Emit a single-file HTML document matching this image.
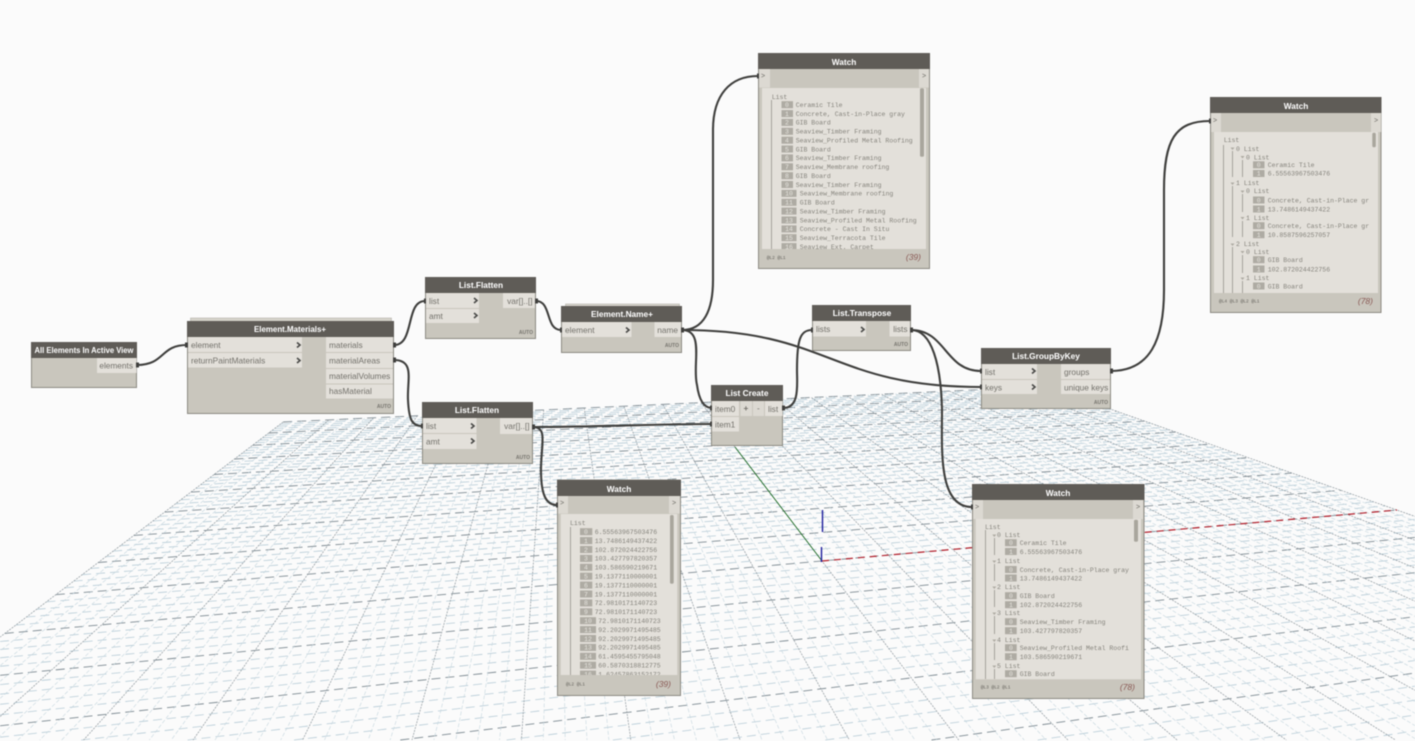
<!DOCTYPE html>
<html><head><meta charset="utf-8"><title>Dynamo graph</title>
<style>
html,body{margin:0;padding:0;background:#fbfbfb;width:1415px;height:741px;overflow:hidden}
svg{display:block;filter:blur(.4px)}
.b{fill:#c9c6bd;stroke:#8c8a82;stroke-width:1}
.h{fill:#5f5c57}
.r{fill:#e3e0da}
.s{fill:#dcd9d2}
.t{font:bold 8.3px "Liberation Sans",sans-serif;fill:#fff;text-anchor:middle}
.l{font:8.3px "Liberation Sans",sans-serif;fill:#73716b}
.e{text-anchor:end}
.a{font:bold 5px "Liberation Sans",sans-serif;fill:#77756f;text-anchor:end}
.c{fill:none;stroke:#4a4a48;stroke-width:1.6}
.w{fill:none;stroke:#3f3f3d;stroke-width:2.1}
.p{fill:#e3e0da}
.m{font:6.5px "Liberation Mono",monospace;fill:#85837c}
.i{font:6.5px "Liberation Mono",monospace;fill:#e6e4de;text-anchor:middle}
.x{fill:#aeaba3}
.f{font:4.5px "Liberation Mono",monospace;fill:#66645e}
.n{font:italic 8.5px "Liberation Sans",sans-serif;fill:#8a5a55;text-anchor:end}
.v{stroke:#97948c;stroke-width:.8;fill:none}
.q{fill:#a9a69d}
.g{font:7px "Liberation Mono",monospace;fill:#6f6d67}
</style></head><body>
<svg xmlns="http://www.w3.org/2000/svg" width="1415" height="741" viewBox="0 0 1415 741">
<defs>
<clipPath id="c1"><rect x="762" y="88" width="156" height="161"/></clipPath>
<clipPath id="c2"><rect x="1214" y="132" width="155" height="161"/></clipPath>
<clipPath id="c3"><rect x="561" y="514" width="107" height="161"/></clipPath>
<clipPath id="c4"><rect x="976" y="519" width="156" height="160"/></clipPath>
</defs>
<rect width="1415" height="741" fill="#fbfbfb"/>
<g id="grid"></g>
<path d="M822 561L1397 510" stroke="#b3202c" stroke-width="1.2" stroke-dasharray="7 5" fill="none"/>
<path d="M822 561L735 447" stroke="#1c6b24" stroke-width=".9" fill="none"/>
<path d="M822.500 510V532M821.500 547V562" stroke="#1d1d9c" stroke-width="1.4" fill="none"/>

<!-- wires -->
<g class="w">
<path d="M137 365C165 365 160 345 187 345"/>
<path d="M394 345C415 345 405 301 425 301"/>
<path d="M394 360C415 360 407 380 408 400C409 420 412 426 422 426"/>
<path d="M536 301C552 301 545 330 561 330"/>
<path d="M682 330C704 330 713 310 713 280L713 130C713 95 730 76 758 76"/>
<path d="M682 330C705 330 692 365 697 385C699 400 704 408 712 408"/>
<path d="M682 330C830 330 830 387 981 387"/>
<path d="M533 427C600 427 650 424 712 424"/>
<path d="M533 427C548 427 541 445 541 470C541 495 546 505 557 505"/>
<path d="M783 408C800 408 797 385 797 370C797 340 800 330 812 330"/>
<path d="M911 330C946 330 945 371 981 371"/>
<path d="M911 330C932 330 941 365 942 410C942 450 938 507 972 507"/>
<path d="M1111 371C1150 371 1164 340 1164 290L1164 190C1164 140 1175 121 1210 121"/>
</g>

<!-- All Elements -->
<rect class="b" x="31.500" y="342.500" width="105" height="45"/>
<rect class="h" x="31" y="342" width="106" height="16"/>
<text class="t" x="84" y="353" textLength="99" lengthAdjust="spacingAndGlyphs">All Elements In Active View</text>
<rect class="r" x="97" y="358" width="39.500" height="15"/>
<text class="l e" x="133" y="368.500">elements</text>

<!-- Element.Materials+ -->
<rect x="190.500" y="318" width="201" height="4" fill="#d5d2ca" stroke="#aaa79f" stroke-width=".5"/>
<rect class="b" x="187.500" y="321.500" width="206" height="92"/>
<rect class="h" x="187" y="321" width="207" height="16"/>
<text class="t" x="290" y="332" textLength="72" lengthAdjust="spacingAndGlyphs">Element.Materials+</text>
<rect class="r" x="188" y="337" width="114" height="15"/>
<rect class="r" x="188" y="353" width="114" height="14.500"/>
<rect class="r" x="326" y="337" width="67" height="15"/>
<rect class="r" x="326" y="353" width="67" height="15"/>
<rect class="r" x="326" y="369" width="67" height="14.500"/>
<rect class="r" x="326" y="384.500" width="67" height="14"/>
<text class="l" x="191" y="348">element</text>
<text class="l" x="191" y="363.500">returnPaintMaterials</text>
<text class="l" x="329" y="348">materials</text>
<text class="l" x="329" y="363.500">materialAreas</text>
<text class="l" x="329" y="379">materialVolumes</text>
<text class="l" x="329" y="394">hasMaterial</text>
<text class="a" x="391" y="408">AUTO</text>
<path class="c" d="M297 342.500L300 345L297 347.500M297 358L300 360.500L297 363"/>

<!-- List.Flatten 1 -->
<rect class="b" x="425.500" y="277.500" width="110" height="61"/>
<rect class="h" x="425" y="277" width="111" height="16"/>
<text class="t" x="481" y="288">List.Flatten</text>
<rect class="r" x="426" y="293" width="53" height="15"/>
<rect class="r" x="426" y="309" width="53" height="14"/>
<rect class="r" x="503" y="293" width="32" height="15"/>
<text class="l" x="429" y="304">list</text>
<text class="l" x="429" y="319">amt</text>
<text class="l e" x="532.500" y="304">var[]..[]</text>
<text class="a" x="533" y="334">AUTO</text>
<path class="c" d="M474 298L477 300.500L474 303M474 313L477 315.500L474 318"/>

<!-- List.Flatten 2 -->
<rect class="b" x="422.500" y="402.500" width="110" height="61"/>
<rect class="h" x="422" y="402" width="111" height="16"/>
<text class="t" x="477" y="413">List.Flatten</text>
<rect class="r" x="423" y="418" width="53.500" height="15"/>
<rect class="r" x="423" y="434" width="53.500" height="15"/>
<rect class="r" x="500" y="418" width="32" height="16"/>
<text class="l" x="426" y="429">list</text>
<text class="l" x="426" y="444.500">amt</text>
<text class="l e" x="529.500" y="429">var[]..[]</text>
<text class="a" x="530" y="459">AUTO</text>
<path class="c" d="M471 423.500L474 426L471 428.500M471 438.500L474 441L471 443.500"/>

<!-- Element.Name+ -->
<rect x="565.500" y="304" width="114" height="4" fill="#d5d2ca" stroke="#aaa79f" stroke-width=".5"/>
<rect class="b" x="561.500" y="306.500" width="120" height="46"/>
<rect class="h" x="561" y="306" width="121" height="16"/>
<text class="t" x="622" y="317">Element.Name+</text>
<rect class="r" x="562" y="322" width="69.500" height="15"/>
<rect class="r" x="654.500" y="322" width="26.500" height="15"/>
<text class="l" x="565" y="333">element</text>
<text class="l e" x="678" y="333">name</text>
<text class="a" x="679" y="347">AUTO</text>
<path class="c" d="M626 327.500L629 330L626 332.500"/>

<!-- List Create -->
<rect class="b" x="711.500" y="385.500" width="71" height="60"/>
<rect class="h" x="711" y="385" width="72" height="16"/>
<text class="t" x="747" y="396">List Create</text>
<rect class="r" x="712" y="401" width="27" height="15"/>
<rect class="r" x="712" y="417" width="27" height="14.500"/>
<rect class="s" x="740.500" y="401" width="11.500" height="15"/>
<rect class="s" x="753" y="401" width="11" height="15"/>
<rect class="r" x="765" y="401" width="17.500" height="15"/>
<text class="l" x="715" y="412">item0</text>
<text class="l" x="715" y="427.500">item1</text>
<text class="l" x="768" y="412">list</text>
<text class="l" x="743.500" y="411" style="font-weight:bold">+</text>
<text class="l" x="757" y="411">-</text>

<!-- List.Transpose -->
<rect class="b" x="812.500" y="305.500" width="98" height="45"/>
<rect class="h" x="812" y="305" width="99" height="16"/>
<text class="t" x="862" y="316">List.Transpose</text>
<rect class="r" x="813" y="321" width="53" height="15.500"/>
<rect class="r" x="889.500" y="321" width="20.500" height="15.500"/>
<text class="l" x="816" y="332">lists</text>
<text class="l e" x="907.500" y="332">lists</text>
<text class="a" x="908" y="346">AUTO</text>
<path class="c" d="M861 327L864 329.500L861 332"/>

<!-- List.GroupByKey -->
<rect class="b" x="981.500" y="348.500" width="129" height="60"/>
<rect class="h" x="981" y="348" width="130" height="16"/>
<text class="t" x="1046" y="359">List.GroupByKey</text>
<rect class="r" x="982" y="364" width="55" height="15"/>
<rect class="r" x="982" y="380" width="55" height="14"/>
<rect class="r" x="1061" y="364" width="49" height="15"/>
<rect class="r" x="1061" y="380" width="49" height="14"/>
<text class="l" x="985" y="375">list</text>
<text class="l" x="985" y="390.500">keys</text>
<text class="l" x="1064" y="375">groups</text>
<text class="l" x="1064" y="390.500">unique keys</text>
<text class="a" x="1108" y="404">AUTO</text>
<path class="c" d="M1032 368.500L1035 371L1032 373.500M1032 384.500L1035 387L1032 389.500"/>

<!-- Watch 1 -->
<rect class="b" x="758.500" y="53.500" width="171" height="215"/>
<rect class="h" x="758" y="53" width="172" height="16"/>
<text class="t" x="844" y="65">Watch</text>
<rect class="s" x="759" y="69" width="11" height="18.500"/>
<rect class="s" x="919" y="69" width="10" height="18.500"/>
<text class="g" x="761" y="78">&gt;</text>
<text class="g" x="922" y="78">&gt;</text>
<rect class="r" x="762" y="88" width="164" height="161"/>
<rect class="q" x="920" y="88.300" width="4" height="68.400" rx="1.500"/>
<text class="m" x="771.700" y="99">List</text>
<path class="v" d="M771.500 100V249"/>
<g clip-path="url(#c1)">
<rect class="x" x="781.500" y="101.200" width="11.500" height="7"/><text class="i" x="787" y="107">0</text><text class="m" x="795.700" y="107">Ceramic Tile</text>
<rect class="x" x="781.500" y="110.100" width="11.500" height="7"/><text class="i" x="787" y="115.900">1</text><text class="m" x="795.700" y="115.900">Concrete, Cast-in-Place gray</text>
<rect class="x" x="781.500" y="118.900" width="11.500" height="7"/><text class="i" x="787" y="124.700">2</text><text class="m" x="795.700" y="124.700">GIB Board</text>
<rect class="x" x="781.500" y="127.800" width="11.500" height="7"/><text class="i" x="787" y="133.600">3</text><text class="m" x="795.700" y="133.600">Seaview_Timber Framing</text>
<rect class="x" x="781.500" y="136.700" width="11.500" height="7"/><text class="i" x="787" y="142.500">4</text><text class="m" x="795.700" y="142.500">Seaview_Profiled Metal Roofing</text>
<rect class="x" x="781.500" y="145.500" width="11.500" height="7"/><text class="i" x="787" y="151.300">5</text><text class="m" x="795.700" y="151.300">GIB Board</text>
<rect class="x" x="781.500" y="154.400" width="11.500" height="7"/><text class="i" x="787" y="160.200">6</text><text class="m" x="795.700" y="160.200">Seaview_Timber Framing</text>
<rect class="x" x="781.500" y="163.300" width="11.500" height="7"/><text class="i" x="787" y="169.100">7</text><text class="m" x="795.700" y="169.100">Seaview_Membrane roofing</text>
<rect class="x" x="781.500" y="172.200" width="11.500" height="7"/><text class="i" x="787" y="178">8</text><text class="m" x="795.700" y="178">GIB Board</text>
<rect class="x" x="781.500" y="181" width="11.500" height="7"/><text class="i" x="787" y="186.800">9</text><text class="m" x="795.700" y="186.800">Seaview_Timber Framing</text>
<rect class="x" x="781.500" y="189.900" width="15" height="7"/><text class="i" x="789" y="195.700">10</text><text class="m" x="799.700" y="195.700">Seaview_Membrane roofing</text>
<rect class="x" x="781.500" y="198.800" width="15" height="7"/><text class="i" x="789" y="204.600">11</text><text class="m" x="799.700" y="204.600">GIB Board</text>
<rect class="x" x="781.500" y="207.600" width="15" height="7"/><text class="i" x="789" y="213.400">12</text><text class="m" x="799.700" y="213.400">Seaview_Timber Framing</text>
<rect class="x" x="781.500" y="216.500" width="15" height="7"/><text class="i" x="789" y="222.300">13</text><text class="m" x="799.700" y="222.300">Seaview_Profiled Metal Roofing</text>
<rect class="x" x="781.500" y="225.400" width="15" height="7"/><text class="i" x="789" y="231.200">14</text><text class="m" x="799.700" y="231.200">Concrete - Cast In Situ</text>
<rect class="x" x="781.500" y="234.200" width="15" height="7"/><text class="i" x="789" y="240">15</text><text class="m" x="799.700" y="240">Seaview_Terracota Tile</text>
<rect class="x" x="781.500" y="243.100" width="15" height="7"/><text class="i" x="789" y="248.900">16</text><text class="m" x="799.700" y="248.900">Seaview_Ext. Carpet</text>
</g>
<text class="f" x="766.700" y="259">@L2 @L1</text>
<text class="n" x="921" y="260">(39)</text>

<!-- Watch 2 -->
<rect class="b" x="1210.500" y="97.500" width="170.500" height="215"/>
<rect class="h" x="1210" y="97" width="171.500" height="16"/>
<text class="t" x="1296" y="109">Watch</text>
<rect class="s" x="1211" y="113" width="10" height="19"/>
<rect class="s" x="1371" y="113" width="10" height="19"/>
<text class="g" x="1213" y="122.500">&gt;</text>
<text class="g" x="1374" y="122.500">&gt;</text>
<rect class="r" x="1214" y="132" width="164" height="161"/>
<rect class="q" x="1372.300" y="132.700" width="3.500" height="14.600" rx="1.500"/>
<text class="m" x="1223.700" y="142">List</text>
<path class="v" d="M1223.500 145V293M1232.500 151V177M1232.500 186V237M1232.500 247V293M1242.500 160V177M1242.500 194V212M1242.500 221V237M1242.500 255V273M1242.500 281V293"/>
<g clip-path="url(#c2)">
<path class="x" d="M1230.500 147.500h4l-2 2.500zM1240.500 156h4l-2 2.500zM1230.500 182.500h4l-2 2.500zM1240.500 190.500h4l-2 2.500zM1240.500 217h4l-2 2.500zM1230.500 243.500h4l-2 2.500zM1240.500 251h4l-2 2.500zM1240.500 277.500h4l-2 2.500z"/>
<text class="m" x="1236" y="151">0 List</text>
<text class="m" x="1246" y="159.300">0 List</text>
<rect class="x" x="1253" y="161.300" width="11.500" height="7"/><text class="i" x="1258.700" y="167">0</text><text class="m" x="1267.700" y="167">Ceramic Tile</text>
<rect class="x" x="1253" y="170" width="11.500" height="7"/><text class="i" x="1258.700" y="175.700">1</text><text class="m" x="1267.700" y="175.700">6.55563967503476</text>
<text class="m" x="1236" y="185">1 List</text>
<text class="m" x="1246" y="193">0 List</text>
<rect class="x" x="1253" y="196.500" width="11.500" height="7"/><text class="i" x="1258.700" y="202.300">0</text><text class="m" x="1267.700" y="202.300">Concrete, Cast-in-Place gr</text>
<rect class="x" x="1253" y="205.500" width="11.500" height="7"/><text class="i" x="1258.700" y="211.300">1</text><text class="m" x="1267.700" y="211.300">13.7486149437422</text>
<text class="m" x="1246" y="220">1 List</text>
<rect class="x" x="1253" y="222.200" width="11.500" height="7"/><text class="i" x="1258.700" y="228">0</text><text class="m" x="1267.700" y="228">Concrete, Cast-in-Place gr</text>
<rect class="x" x="1253" y="231.200" width="11.500" height="7"/><text class="i" x="1258.700" y="237">1</text><text class="m" x="1267.700" y="237">10.8587596257057</text>
<text class="m" x="1236" y="246">2 List</text>
<text class="m" x="1246" y="254">0 List</text>
<rect class="x" x="1253" y="256.200" width="11.500" height="7"/><text class="i" x="1258.700" y="262">0</text><text class="m" x="1267.700" y="262">GIB Board</text>
<rect class="x" x="1253" y="265.500" width="11.500" height="7"/><text class="i" x="1258.700" y="271.300">1</text><text class="m" x="1267.700" y="271.300">102.872024422756</text>
<text class="m" x="1246" y="280">1 List</text>
<rect class="x" x="1253" y="282.500" width="11.500" height="7"/><text class="i" x="1258.700" y="288.300">0</text><text class="m" x="1267.700" y="288.300">GIB Board</text>
</g>
<text class="f" x="1219" y="302.500">@L4 @L3 @L2 @L1</text>
<text class="n" x="1373" y="304">(78)</text>

<!-- Watch 3 -->
<rect class="b" x="557.500" y="480" width="123" height="215.500"/>
<rect class="h" x="557" y="480" width="124" height="16"/>
<text class="t" x="619" y="492">Watch</text>
<rect class="s" x="558" y="496" width="10" height="17.500"/>
<rect class="s" x="669" y="496" width="11" height="17.500"/>
<text class="g" x="560" y="505">&gt;</text>
<text class="g" x="672" y="505">&gt;</text>
<rect class="r" x="560.700" y="514" width="116.600" height="161"/>
<rect class="q" x="670" y="515" width="3.700" height="68.700" rx="1.500"/>
<text class="m" x="570" y="525">List</text>
<path class="v" d="M570.500 527V675"/>
<g clip-path="url(#c3)">
<rect class="x" x="580" y="528.200" width="12.300" height="7"/><text class="i" x="586" y="534">0</text><text class="m" x="594.700" y="534">6.55563967503476</text>
<rect class="x" x="580" y="537.100" width="12.300" height="7"/><text class="i" x="586" y="542.900">1</text><text class="m" x="594.700" y="542.900">13.7486149437422</text>
<rect class="x" x="580" y="546" width="12.300" height="7"/><text class="i" x="586" y="551.800">2</text><text class="m" x="594.700" y="551.800">102.872024422756</text>
<rect class="x" x="580" y="554.900" width="12.300" height="7"/><text class="i" x="586" y="560.700">3</text><text class="m" x="594.700" y="560.700">103.427797820357</text>
<rect class="x" x="580" y="563.800" width="12.300" height="7"/><text class="i" x="586" y="569.600">4</text><text class="m" x="594.700" y="569.600">103.586590219671</text>
<rect class="x" x="580" y="572.700" width="12.300" height="7"/><text class="i" x="586" y="578.500">5</text><text class="m" x="594.700" y="578.500">19.1377110000001</text>
<rect class="x" x="580" y="581.600" width="12.300" height="7"/><text class="i" x="586" y="587.400">6</text><text class="m" x="594.700" y="587.400">19.1377110000001</text>
<rect class="x" x="580" y="590.500" width="12.300" height="7"/><text class="i" x="586" y="596.300">7</text><text class="m" x="594.700" y="596.300">19.1377110000001</text>
<rect class="x" x="580" y="599.400" width="12.300" height="7"/><text class="i" x="586" y="605.200">8</text><text class="m" x="594.700" y="605.200">72.9810171140723</text>
<rect class="x" x="580" y="608.300" width="12.300" height="7"/><text class="i" x="586" y="614.100">9</text><text class="m" x="594.700" y="614.100">72.9810171140723</text>
<rect class="x" x="580" y="617.200" width="16" height="7"/><text class="i" x="588" y="623">10</text><text class="m" x="598.300" y="623">72.9810171140723</text>
<rect class="x" x="580" y="626.100" width="16" height="7"/><text class="i" x="588" y="631.900">11</text><text class="m" x="598.300" y="631.900">92.2029971495485</text>
<rect class="x" x="580" y="635" width="16" height="7"/><text class="i" x="588" y="640.800">12</text><text class="m" x="598.300" y="640.800">92.2029971495485</text>
<rect class="x" x="580" y="643.900" width="16" height="7"/><text class="i" x="588" y="649.700">13</text><text class="m" x="598.300" y="649.700">92.2029971495485</text>
<rect class="x" x="580" y="652.800" width="16" height="7"/><text class="i" x="588" y="658.600">14</text><text class="m" x="598.300" y="658.600">61.4595455795048</text>
<rect class="x" x="580" y="661.700" width="16" height="7"/><text class="i" x="588" y="667.500">15</text><text class="m" x="598.300" y="667.500">60.5870318812775</text>
<rect class="x" x="580" y="670.600" width="16" height="7"/><text class="i" x="588" y="676.400">16</text><text class="m" x="598.300" y="676.400">1.62457863152172</text>
</g>
<text class="f" x="566" y="685.500">@L2 @L1</text>
<text class="n" x="671" y="687">(39)</text>

<!-- Watch 4 -->
<rect class="b" x="972.500" y="484.500" width="171.500" height="214"/>
<rect class="h" x="972" y="484" width="172.500" height="16"/>
<text class="t" x="1058" y="496">Watch</text>
<rect class="s" x="973" y="500" width="10" height="19"/>
<rect class="s" x="1133" y="500" width="10" height="19"/>
<text class="g" x="975" y="509">&gt;</text>
<text class="g" x="1136" y="509">&gt;</text>
<rect class="r" x="975.700" y="519" width="165.300" height="160.300"/>
<rect class="q" x="1134" y="519.700" width="4" height="22" rx="1.500"/>
<text class="m" x="985" y="529">List</text>
<path class="v" d="M985.500 530V679M994.500 538V555M994.500 564V581M994.500 590V607M994.500 616V634M994.500 643V660M994.500 669V679"/>
<g clip-path="url(#c4)">
<path class="x" d="M992.300 534.500h4l-2 2.500zM992.300 560.500h4l-2 2.500zM992.300 586.500h4l-2 2.500zM992.300 612.500h4l-2 2.500zM992.300 639.500h4l-2 2.500zM992.300 665.500h4l-2 2.500z"/>
<text class="m" x="997" y="536.800">0 List</text>
<rect class="x" x="1005" y="539.200" width="11.700" height="7"/><text class="i" x="1011" y="545">0</text><text class="m" x="1019.700" y="545">Ceramic Tile</text>
<rect class="x" x="1005" y="548" width="11.700" height="7"/><text class="i" x="1011" y="553.800">1</text><text class="m" x="1019.700" y="553.800">6.55563967503476</text>
<text class="m" x="997" y="563">1 List</text>
<rect class="x" x="1005" y="566" width="11.700" height="7"/><text class="i" x="1011" y="571.800">0</text><text class="m" x="1019.700" y="571.800">Concrete, Cast-in-Place gray</text>
<rect class="x" x="1005" y="574.500" width="11.700" height="7"/><text class="i" x="1011" y="580.300">1</text><text class="m" x="1019.700" y="580.300">13.7486149437422</text>
<text class="m" x="997" y="589">2 List</text>
<rect class="x" x="1005" y="592.200" width="11.700" height="7"/><text class="i" x="1011" y="598">0</text><text class="m" x="1019.700" y="598">GIB Board</text>
<rect class="x" x="1005" y="601.200" width="11.700" height="7"/><text class="i" x="1011" y="607">1</text><text class="m" x="1019.700" y="607">102.872024422756</text>
<text class="m" x="997" y="615">3 List</text>
<rect class="x" x="1005" y="618.200" width="11.700" height="7"/><text class="i" x="1011" y="624">0</text><text class="m" x="1019.700" y="624">Seaview_Timber Framing</text>
<rect class="x" x="1005" y="627.200" width="11.700" height="7"/><text class="i" x="1011" y="633">1</text><text class="m" x="1019.700" y="633">103.427797820357</text>
<text class="m" x="997" y="642">4 List</text>
<rect class="x" x="1005" y="644.200" width="11.700" height="7"/><text class="i" x="1011" y="650">0</text><text class="m" x="1019.700" y="650">Seaview_Profiled Metal Roofi</text>
<rect class="x" x="1005" y="653.200" width="11.700" height="7"/><text class="i" x="1011" y="659">1</text><text class="m" x="1019.700" y="659">103.586590219671</text>
<text class="m" x="997" y="668">5 List</text>
<rect class="x" x="1005" y="670.200" width="11.700" height="7"/><text class="i" x="1011" y="676">0</text><text class="m" x="1019.700" y="676">GIB Board</text>
</g>
<text class="f" x="980.700" y="688.500">@L3 @L2 @L1</text>
<text class="n" x="1135" y="690">(78)</text>

<!-- port nubs -->
<path fill="#3f3f3d" d="M136 362.500h3v5h-3zM185 342.500h3v5h-3zM393 342.500h3v5h-3zM393 357.500h3v5h-3zM424 298.500h2v5h-2zM421 423.500h2v5h-2zM535 298.500h3v5h-3zM532 424.500h3v5h-3zM560 327.500h2v5h-2zM681 327.500h3v5h-3zM710 405.500h2v5h-2zM710 421.500h2v5h-2zM782 405.500h3v5h-3zM811 327.500h2v5h-2zM910 327.500h3v5h-3zM980 368.500h2v5h-2zM980 384.500h2v5h-2zM1110 368.500h3v5h-3zM757 73.500h2v5h-2zM1209 118.500h2v5h-2zM556 502.500h2v5h-2zM971 504.500h2v5h-2z"/>
</svg>
<script>
(function(){
var O=[822,561],V2=[4704,217],V1=[557,214],S=.1739,T=.84,N=50,W=1415,H=740;
function P(s,t){var d=1+s+t;return [(O[0]+s*V2[0]+t*V1[0])/d,(O[1]+s*V2[1]+t*V1[1])/d];}
function clip(a,b){var t0=0,t1=1,dx=b[0]-a[0],dy=b[1]-a[1];
 var ps=[-dx,dx,-dy,dy],qs=[a[0],W-a[0],a[1],H-a[1]];
 for(var k=0;k<4;k++){if(ps[k]==0){if(qs[k]<0)return null;continue;}
  var r=qs[k]/ps[k];
  if(ps[k]<0){if(r>t1)return null;if(r>t0)t0=r;}else{if(r<t0)return null;if(r<t1)t1=r;}}
 return [[a[0]+t0*dx,a[1]+t0*dy],[a[0]+t1*dx,a[1]+t1*dy]];}
var g=document.getElementById('grid'),ns='http://www.w3.org/2000/svg';
function L(a,b,col,w,dash){var c=clip(a,b);if(!c)return;var e=document.createElementNS(ns,'line');
e.setAttribute('x1',c[0][0].toFixed(1));e.setAttribute('y1',c[0][1].toFixed(1));e.setAttribute('x2',c[1][0].toFixed(1));e.setAttribute('y2',c[1][1].toFixed(1));
e.setAttribute('stroke',col);e.setAttribute('stroke-width',w);
e.setAttribute('stroke-dasharray',dash);g.appendChild(e);}
var i,j,s,t;
for(j=-N;j<=N;j++){t=j*T/N;if(t<-.6)continue;
 if(j%5==0)L(P(-S,t),P(S,t),'#7d8a92','.9','9 5');else L(P(-S,t),P(S,t),'#b7ccd7','.8','9 5');}
for(i=-N;i<=N;i++){s=i*S/N;
 if(i%5==0)L(P(s,T),P(s,-.6),'#8d979d','.7','2 1');else L(P(s,T),P(s,-.6),'#c5d6de','.6','4 2');}
})();
</script>
</body></html>
